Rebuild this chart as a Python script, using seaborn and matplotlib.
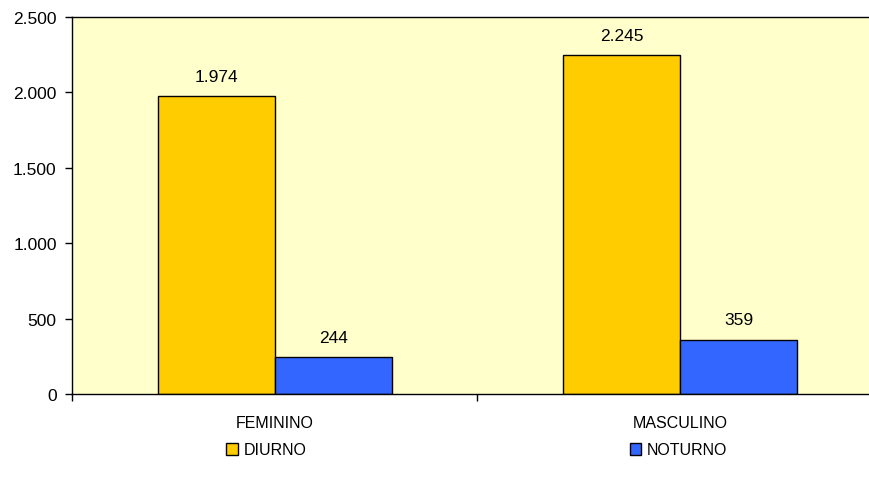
import matplotlib
matplotlib.use("Agg")
import matplotlib.pyplot as plt
import seaborn as sns
import pandas as pd
from matplotlib.patches import Patch

categories = ["FEMININO", "MASCULINO"]
series = ["DIURNO", "NOTURNO"]
diurno = [1974, 2245]
noturno = [244, 359]
yticks = [0, 500, 1000, 1500, 2000, 2500]
colors = ["#FFCC00", "#3366FF"]

df = pd.DataFrame({
    "cat": categories * 2,
    "turno": [series[0]] * 2 + [series[1]] * 2,
    "val": diurno + noturno,
})

sns.set_theme(style="white")
plt.rcParams["font.family"] = ["Liberation Sans", "DejaVu Sans"]
plt.rcParams["text.color"] = "black"
plt.rcParams["xtick.color"] = "black"
plt.rcParams["ytick.color"] = "black"
plt.rcParams["axes.labelcolor"] = "black"

fig = plt.figure(figsize=(8.7, 4.85), dpi=100)
ax = fig.add_axes([72 / 870, 1 - 395 / 485, (883 - 72) / 870, (395 - 18) / 485])
ax.set_facecolor("#FFFFCC")

sns.barplot(data=df, x="cat", y="val", hue="turno", order=categories,
            hue_order=series, palette=colors, saturation=1, width=0.578, ax=ax,
            edgecolor="black", linewidth=1.0, legend=False, errorbar=None)

ax.set_xlim(-0.5, 1.5)
ax.set_ylim(0, 2500)
ax.set_yticks(yticks)
ax.set_yticklabels([f"{v:,}".replace(",", ".") for v in yticks], fontsize=12.5)
ax.set_xlabel("")
ax.set_ylabel("")
ax.tick_params(axis="y", direction="out", length=5, width=1, color="black", labelcolor="black", pad=6, left=True)
ax.tick_params(axis="x", which="major", length=0, pad=15, labelsize=11.5, labelcolor="black")
ax.set_xticks([-0.5, 0.5, 1.5], minor=True)
ax.tick_params(axis="x", which="minor", direction="out", length=5, width=1, color="black", bottom=True)

for s in ["top", "left", "bottom", "right"]:
    ax.spines[s].set_visible(True)
    ax.spines[s].set_color("black")
    ax.spines[s].set_linewidth(1)

for cont in ax.containers:
    ax.bar_label(cont, labels=[f"{int(v):,}".replace(",", ".") for v in cont.datavalues],
                 padding=9, fontsize=12.5, color="black")

handles = [Patch(facecolor=c, edgecolor="black", linewidth=1) for c in colors]
fig.legend(handles, series, loc="center", bbox_to_anchor=(477 / 870, 1 - 451 / 485),
           ncol=2, frameon=False, fontsize=11.5, handlelength=0.7, handleheight=0.7,
           handletextpad=0.4, columnspacing=20.2, labelcolor="black")

fig.savefig("out.png", dpi=100)
